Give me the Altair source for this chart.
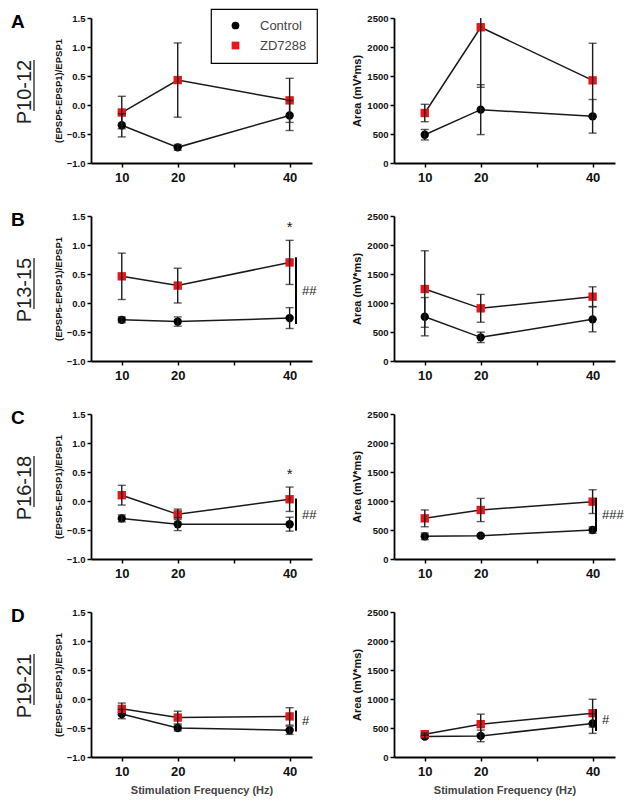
import altair as alt
import pandas as pd

FONT = "Liberation Sans"

freqs = [10, 20, 40]
groups = ["Control", "ZD7288"]
panel_letters = ["A", "B", "C", "D"]
age_labels = ["P10-12", "P13-15", "P16-18", "P19-21"]

# (EPSP5-EPSP1)/EPSP1, one list per row A..D, values at 10/20/40 Hz
ratio_control_mean = [[-0.35, -0.73, -0.18], [-0.29, -0.32, -0.26], [-0.30, -0.40, -0.40], [-0.26, -0.50, -0.54]]
ratio_control_sem = [[0.20, 0.05, 0.26], [0.05, 0.08, 0.18], [0.06, 0.11, 0.12], [0.08, 0.05, 0.07]]
ratio_zd_mean = [[-0.13, 0.43, 0.08], [0.46, 0.30, 0.70], [0.10, -0.23, 0.03], [-0.17, -0.32, -0.30]]
ratio_zd_sem = [[0.28, 0.64, 0.38], [0.40, 0.30, 0.38], [0.17, 0.09, 0.21], [0.10, 0.11, 0.15]]

# Area (mV*ms)
area_control_mean = [[488, 920, 805], [764, 408, 718], [391, 402, 500], [352, 364, 577]]
area_control_sem = [[90, 430, 290], [330, 90, 215], [58, 25, 55], [30, 100, 170]]
area_zd_mean = [[862, 2340, 1425], [1241, 908, 1109], [701, 845, 989], [393, 566, 756]]
area_zd_sem = [[150, 1035, 640], [660, 240, 170], [145, 200, 205], [20, 173, 240]]

# significance annotations
ratio_star = {1: (40, 1.31), 2: (40, 0.46)}
ratio_sig = {1: (-0.36, 0.79, "##"), 2: (-0.515, 0.045, "##"), 3: (-0.56, -0.20, "#")}
area_sig = {2: (477, 1052, "###"), 3: (450, 826, "#")}

INK = "#1a1a1a"
RED = "#e8151b"


def long_df(cm, cs, zm, zs):
    rows = []
    for g, m, s in [("Control", cm, cs), ("ZD7288", zm, zs)]:
        for f, mv, sv in zip(freqs, m, s):
            rows.append({"freq": f, "group": g, "mean": mv, "lo": mv - sv, "hi": mv + sv})
    return pd.DataFrame(rows)


def make_panel(df, ydom, yvals, yfmt, ytitle, ytitle_size, ytitle_pad, show_xtitle,
               sig=None, star=None, letter=None, age=None, sigx=205):
    xscale = alt.Scale(domain=[4.5, 44], nice=False, zero=False)
    xaxis = alt.Axis(values=[10, 20, 30, 40],
                     labelExpr="datum.value == 30 ? '' : datum.label",
                     title="Stimulation Frequency (Hz)" if show_xtitle else None)
    yscale = alt.Scale(domain=ydom, nice=False, zero=False)
    yaxis = alt.Axis(values=yvals, format=yfmt, title=ytitle,
                     titleFontSize=ytitle_size, titlePadding=ytitle_pad)
    X = alt.X("freq:Q", scale=xscale, axis=xaxis)
    legend = alt.Legend(title=None, orient="none", legendX=120, legendY=-9)
    base = alt.Chart(df)
    line = base.mark_line(color=INK, strokeWidth=1.5).encode(
        x=X, y=alt.Y("mean:Q", scale=yscale, axis=yaxis), detail="group:N")
    pts = base.mark_point(filled=True, size=70, opacity=1).encode(
        x=X, y=alt.Y("mean:Q", scale=yscale, axis=yaxis),
        color=alt.Color("group:N", scale=alt.Scale(domain=groups, range=["#000000", RED]), legend=legend),
        shape=alt.Shape("group:N", scale=alt.Scale(domain=groups, range=["circle", "square"]), legend=legend))
    bars = base.mark_rule(color=INK, strokeWidth=1.4, clip=True).encode(
        x=X, y=alt.Y("lo:Q", scale=yscale, axis=yaxis), y2="hi:Q")
    cap_lo = base.mark_tick(orient="horizontal", size=8, thickness=1.4, color=INK, clip=True).encode(
        x=X, y=alt.Y("lo:Q", scale=yscale, axis=yaxis))
    cap_hi = base.mark_tick(orient="horizontal", size=8, thickness=1.4, color=INK, clip=True).encode(
        x=X, y=alt.Y("hi:Q", scale=yscale, axis=yaxis))
    layers = [line, pts, bars, cap_lo, cap_hi]

    if star is not None:
        sdf = pd.DataFrame({"freq": [star[0]], "y": [star[1]], "t": ["*"]})
        layers.append(alt.Chart(sdf).mark_text(fontSize=15, font=FONT, color=INK, baseline="middle").encode(
            x=X, y=alt.Y("y:Q", scale=yscale, axis=yaxis), text="t:N"))
    if sig is not None:
        gdf = pd.DataFrame({"lo": [sig[0]], "hi": [sig[1]], "mid": [(sig[0] + sig[1]) / 2], "t": [sig[2]]})
        layers.append(alt.Chart(gdf).mark_rule(color="#000000", strokeWidth=2).encode(
            x=alt.value(sigx), y=alt.Y("lo:Q", scale=yscale, axis=yaxis), y2="hi:Q"))
        layers.append(alt.Chart(gdf).mark_text(fontSize=13, font=FONT, color="#222222", align="left",
                                                baseline="middle").encode(
            x=alt.value(sigx + 6), y=alt.Y("mid:Q", scale=yscale, axis=yaxis), text="t:N"))
    if letter is not None:
        ldf = pd.DataFrame({"t": [letter]})
        layers.append(alt.Chart(ldf).mark_text(fontSize=19, fontWeight="bold", font=FONT, color="#000000",
                                               align="left", baseline="alphabetic").encode(
            x=alt.value(-80), y=alt.value(10), text="t:N"))
    if age is not None:
        adf = pd.DataFrame({"t": [age]})
        layers.append(alt.Chart(adf).mark_text(fontSize=20, font=FONT, color="#222222", angle=270,
                                               align="center", baseline="alphabetic").encode(
            x=alt.value(-60), y=alt.value(74), text="t:N"))
        layers.append(alt.Chart(adf).mark_rule(color="#222222", strokeWidth=1.3).encode(
            x=alt.value(-57), y=alt.value(42), y2=alt.value(93)))
    return alt.layer(*layers).properties(width=221, height=145)


panels = []
for i in range(4):
    last = i == 3
    rdf = long_df(ratio_control_mean[i], ratio_control_sem[i], ratio_zd_mean[i], ratio_zd_sem[i])
    adf = long_df(area_control_mean[i], area_control_sem[i], area_zd_mean[i], area_zd_sem[i])
    left = make_panel(rdf, [-1.0, 1.5], [-1.0, -0.5, 0.0, 0.5, 1.0, 1.5], ".1f",
                      "(EPSP5-EPSP1)/EPSP1", 9.5, 3, last,
                      sig=ratio_sig.get(i), star=ratio_star.get(i),
                      letter=panel_letters[i], age=age_labels[i], sigx=205)
    right = make_panel(adf, [0, 2500], [0, 500, 1000, 1500, 2000, 2500], "d",
                       "Area (mV*ms)", 11, 4, last, sig=area_sig.get(i), sigx=202)
    panels += [left, right]

chart = alt.concat(*panels, columns=2, spacing={"row": 27, "column": 34}).properties(
    padding={"left": 3, "top": 0, "right": 5, "bottom": 5}
).configure_view(
    stroke=None
).configure_axis(
    grid=False, domainColor="#000000", domainWidth=1.8, tickColor="#000000", tickWidth=1.5,
    tickSize=4, labelFont=FONT, labelFontWeight="bold", labelColor="#111111",
    titleFont=FONT, titleFontWeight="bold", titleColor="#111111"
).configure_axisX(
    labelFontSize=13, labelPadding=4, titleFontSize=11, titleColor="#444444", titlePadding=6
).configure_axisY(
    labelFontSize=9.5, labelPadding=2
).configure_legend(
    labelFont=FONT, labelFontSize=13, labelColor="#444444", strokeColor="#000000",
    fillColor="#ffffff", padding=10, symbolSize=60, labelOffset=18, rowPadding=6,
    symbolOffset=8, cornerRadius=0, strokeWidth=1.2
)

chart.save("out.html", embed_options={"renderer": "svg", "actions": False})
